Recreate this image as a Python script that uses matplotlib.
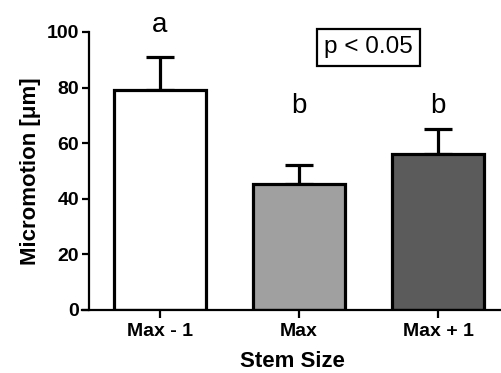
import matplotlib
matplotlib.use('Agg')
import matplotlib.pyplot as plt

categories = ['Max - 1', 'Max', 'Max + 1']
means = [79.2, 45.2, 56.0]
errors = [11.8, 6.9, 9.2]
colors = ['white', '#a0a0a0', '#5b5b5b']
letters = ['a', 'b', 'b']
letter_y = [100, 71, 71]

plt.rcParams['font.family'] = ['Liberation Sans', 'DejaVu Sans']

W, H = 502, 373
fig = plt.figure(figsize=(W / 100, H / 100), dpi=100)
# axes box in pixels: left 82, right 502, bottom 310, top 32
ax = fig.add_axes([82 / W, (H - 310) / H, (502 - 82) / W, (310 - 32) / H])

xs = range(len(categories))
ax.bar(xs, means, width=0.66, color=colors, edgecolor='black', linewidth=2.3,
       zorder=2)
ax.errorbar(xs, means, yerr=[[0] * 3, errors], fmt='none', ecolor='black',
            elinewidth=2.3, capsize=10, capthick=2.3, zorder=1)

for x, l, y in zip(xs, letters, letter_y):
    ax.text(x, y, l, ha='center', va='baseline', fontsize=20, clip_on=False)

ax.text(1.5, 94.5, 'p < 0.05', ha='center', va='center', fontsize=17.5,
        bbox=dict(boxstyle='square,pad=0.3', facecolor='white',
                  edgecolor='black', linewidth=1.6))

ax.set_xlim(-0.56, 2.46)
ax.set_ylim(0, 100)
ax.spines['left'].set_position(('data', -0.51))
ax.spines['top'].set_visible(False)
ax.spines['right'].set_visible(False)
ax.spines['left'].set_linewidth(1.6)
ax.spines['bottom'].set_linewidth(1.6)

ax.set_yticks([0, 20, 40, 60, 80, 100])
ax.set_xticks(list(xs))
ax.set_xticklabels(categories, fontweight='bold', fontsize=14)
ax.tick_params(axis='y', labelsize=14, length=5, width=1.6, pad=2)
ax.tick_params(axis='x', length=6, width=1.6, pad=3)
for t in ax.get_yticklabels():
    t.set_fontweight('bold')

ax.set_ylabel('Micromotion [\u03bcm]', fontsize=16, fontweight='bold', labelpad=4)
ax.set_xlabel('Stem Size', fontsize=16, fontweight='bold', labelpad=8)

fig.savefig('out.png', dpi=100)
